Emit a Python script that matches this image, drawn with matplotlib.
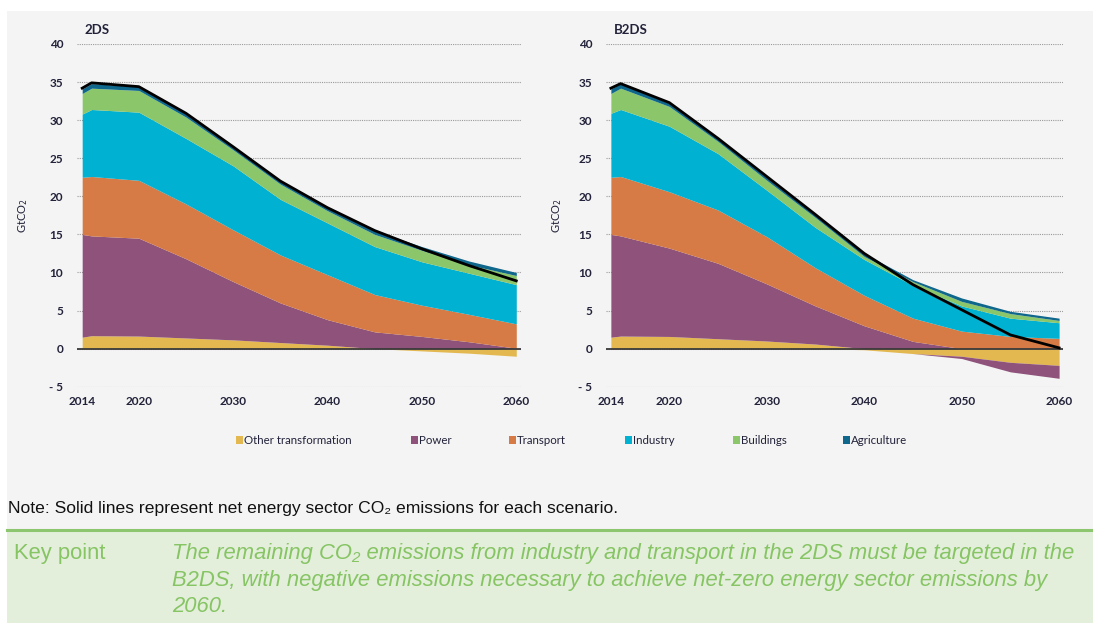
import numpy as np
import matplotlib
matplotlib.use('Agg')
import matplotlib.pyplot as plt
from matplotlib.patches import Rectangle

W, H = 1093, 623

years = [2014, 2015, 2020, 2025, 2030, 2035, 2040, 2045, 2050, 2055, 2060]
sectors = ['Other transformation', 'Power', 'Transport', 'Industry', 'Buildings', 'Agriculture']
colors = ['#e3b850', '#8e527b', '#d67b45', '#00b1d2', '#8cc66a', '#0f678c']

# 2DS, GtCO2 per sector
ds2_other = [1.5, 1.7, 1.65, 1.4, 1.15, 0.8, 0.45, 0.0, -0.3, -0.6, -1.0]
ds2_power = [13.5, 13.1, 12.85, 10.4, 7.65, 5.2, 3.35, 2.2, 1.6, 0.9, 0.05]
ds2_transport = [7.5, 7.8, 7.6, 7.2, 6.8, 6.3, 5.9, 4.9, 4.1, 3.6, 3.2]
ds2_industry = [8.3, 8.8, 8.95, 8.6, 8.4, 7.3, 6.8, 6.3, 5.7, 5.4, 5.15]
ds2_buildings = [2.7, 2.8, 2.85, 2.8, 2.1, 2.0, 1.6, 1.6, 1.5, 1.1, 1.2]
ds2_agri = [0.6, 0.6, 0.5, 0.6, 0.5, 0.5, 0.5, 0.5, 0.5, 0.5, 0.4]
ds2_net = [34.2, 34.9, 34.4, 30.9, 26.5, 22.0, 18.5, 15.5, 13.1, 10.9, 8.9]

# B2DS
b2ds_other = [1.5, 1.65, 1.6, 1.3, 1.0, 0.6, -0.15, -0.65, -1.0, -1.8, -2.2]
b2ds_power = [13.5, 13.15, 11.6, 9.9, 7.5, 5.0, 3.0, 0.95, -0.3, -1.25, -1.7]
b2ds_transport = [7.5, 7.8, 7.4, 7.0, 6.2, 5.0, 4.0, 3.05, 2.3, 1.6, 1.35]
b2ds_industry = [8.4, 8.8, 8.6, 7.4, 6.1, 5.3, 4.7, 4.3, 3.3, 2.4, 2.05]
b2ds_buildings = [2.6, 2.8, 2.6, 1.6, 1.3, 1.3, 0.4, 0.5, 0.6, 0.6, 0.3]
b2ds_agri = [0.6, 0.6, 0.4, 0.3, 0.4, 0.3, 0.4, 0.25, 0.45, 0.3, 0.3]
b2ds_net = [34.2, 34.8, 32.3, 27.6, 22.6, 17.6, 12.5, 8.4, 5.1, 1.8, 0.1]

yticks = [-5, 0, 5, 10, 15, 20, 25, 30, 35, 40]
ytick_labels = ['- 5', '0', '5', '10', '15', '20', '25', '30', '35', '40']
xticks = [2014, 2020, 2030, 2040, 2050, 2060]

chart_font = 'Lato'
tick_color = '#22223a'


def fx(px):
    return px / W


def fy(py):
    return 1 - py / H


fig = plt.figure(figsize=(W / 100, H / 100), dpi=100)
fig.patch.set_facecolor('white')

# grey panel behind the chart and note
fig.patches.append(Rectangle((fx(7), fy(529)), 1 - fx(7), (529 - 11) / H,
                             transform=fig.transFigure, facecolor='#f4f4f4',
                             edgecolor='none', zorder=-10))
# key point box
fig.patches.append(Rectangle((fx(7), 0), 1 - fx(7), (H - 531) / H,
                             transform=fig.transFigure, facecolor='#e3efdb',
                             edgecolor='none', zorder=-10))
fig.lines.append(plt.Line2D([fx(7), 1], [fy(530), fy(530)], transform=fig.transFigure,
                            color='#8cc66e', lw=2.2))


def draw_panel(ax, series, net, xlim, labelpad):
    pos_base = np.zeros(len(years))
    neg_base = np.zeros(len(years))
    for vals, c in zip(series, colors):
        v = np.array(vals)
        p = np.clip(v, 0, None)
        n = np.clip(v, None, 0)
        ax.fill_between(years, pos_base, pos_base + p, color=c, lw=0, zorder=2)
        ax.fill_between(years, neg_base, neg_base + n, color=c, lw=0, zorder=2)
        pos_base = pos_base + p
        neg_base = neg_base + n
    ax.axhline(0, color='#3a3a3a', lw=1.3, zorder=3)
    ax.plot(years, net, color='black', lw=2.0, zorder=4, solid_joinstyle='round')

    ax.set_xlim(*xlim)
    ax.set_ylim(-5, 40)
    ax.set_facecolor('none')
    for s in ax.spines.values():
        s.set_visible(False)
    ax.set_yticks(yticks)
    ax.set_yticklabels(ytick_labels)
    ax.set_xticks(xticks)
    ax.tick_params(length=0, labelsize=8.5, colors=tick_color)
    ax.tick_params(axis='y', pad=10)
    ax.tick_params(axis='x', pad=7)
    for lab in ax.get_xticklabels() + ax.get_yticklabels():
        lab.set_fontfamily(chart_font)
        lab.set_fontweight('bold')
    ax.grid(axis='y', ls=(0, (1, 1)), color='#9a9a9a', lw=0.8, zorder=0)
    ax.set_axisbelow(True)
    ax.set_ylabel('GtCO$_2$', fontsize=8, color=tick_color, labelpad=labelpad, fontfamily=chart_font)


ax1 = fig.add_axes([fx(77), fy(386.7), 444 / W, 342.7 / H])
draw_panel(ax1, [ds2_other, ds2_power, ds2_transport, ds2_industry, ds2_buildings, ds2_agri],
           ds2_net, (2013.45, 2060.5), 14)
ax2 = fig.add_axes([fx(606), fy(386.7), 457 / W, 342.7 / H])
draw_panel(ax2, [b2ds_other, b2ds_power, b2ds_transport, b2ds_industry, b2ds_buildings, b2ds_agri],
           b2ds_net, (2013.5, 2060.4), 10)

fig.text(fx(84), fy(30), '2DS', fontsize=9.5, color='#22223a', va='center', ha='left',
         fontfamily=chart_font, fontweight='bold')
fig.text(fx(614), fy(30), 'B2DS', fontsize=9.5, color='#22223a', va='center', ha='left',
         fontfamily=chart_font, fontweight='bold')

# legend
legend_x = [236, 411, 509, 625, 733, 843]
for x0, name, c in zip(legend_x, sectors, colors):
    fig.patches.append(Rectangle((fx(x0), fy(444)), 7 / W, 8 / H, transform=fig.transFigure,
                                 facecolor=c, edgecolor='none'))
    fig.text(fx(x0 + 8), fy(440), name, fontsize=8.3, color='#22223a', va='center', ha='left',
             fontfamily=chart_font)

fig.text(fx(8), fy(508), 'Note: Solid lines represent net energy sector CO\u2082 emissions for each scenario.',
         fontsize=12.6, color='#111111', va='center', ha='left', fontfamily='Liberation Sans')

green = '#86c464'
fig.text(fx(14), fy(554), 'Key point', fontsize=15.8, color=green, va='center', ha='left',
         fontfamily='Liberation Sans')
key_lines = ['The remaining CO\u2082 emissions from industry and transport in the 2DS must be targeted in the',
             'B2DS, with negative emissions necessary to achieve net-zero energy sector emissions by',
             '2060.']
for i, line in enumerate(key_lines):
    fig.text(fx(172), fy(554 + 26.5 * i), line, fontsize=15.8, color=green, va='center', ha='left',
             fontfamily='Liberation Sans', style='italic')

fig.savefig('out.png', dpi=100, facecolor=fig.get_facecolor())
